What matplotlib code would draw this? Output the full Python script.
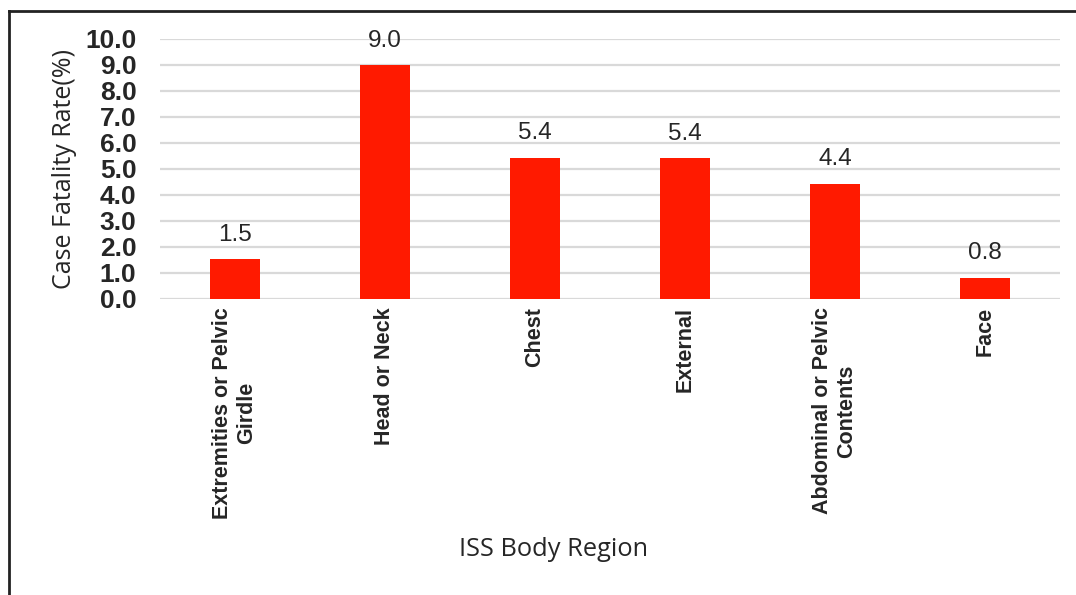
import matplotlib.pyplot as plt
import matplotlib.lines as mlines
from matplotlib import font_manager
import numpy as np

regions = [
    "Extremities or Pelvic\nGirdle",
    "Head or Neck",
    "Chest",
    "External",
    "Abdominal or Pelvic\nContents",
    "Face",
]
fatality_rate = [1.54, 9.0, 5.44, 5.42, 4.44, 0.82]
y_ticks = [0.0, 1.0, 2.0, 3.0, 4.0, 5.0, 6.0, 7.0, 8.0, 9.0, 10.0]

BAR_COLOR = "#FF1A00"
TEXT_COLOR = "#262626"


def liberation(bold=False, size=12):
    # pick the regular-width Liberation Sans file (avoid the Narrow variant)
    for f in font_manager.fontManager.ttflist:
        name = f.fname.split("/")[-1]
        if f.name == "Liberation Sans" and "Narrow" not in name and f.style == "normal":
            if (f.weight in (700, "bold")) == bold:
                return font_manager.FontProperties(fname=f.fname, size=size)
    return font_manager.FontProperties(family="Liberation Sans",
                                       weight="bold" if bold else "normal", size=size)


def main():
    fig = plt.figure(figsize=(10.76, 5.95), dpi=100)
    ax = fig.add_axes([0.1487, 0.4975, 0.8363, 0.437])

    x = np.arange(len(regions))
    ax.bar(x, fatality_rate, width=0.33, color=BAR_COLOR, zorder=3)

    for xi, v in zip(x, fatality_rate):
        ax.annotate(
            f"{v:.1f}",
            (xi, v),
            xytext=(0, 9.5),
            textcoords="offset points",
            ha="center",
            va="bottom",
            fontproperties=liberation(False, 17.5),
            color=TEXT_COLOR,
        )

    ax.set_xlim(-0.5, len(regions) - 0.5)
    ax.set_ylim(0, 10)
    ax.set_yticks(y_ticks)
    ax.set_yticklabels([f"{t:.1f}" for t in y_ticks],
                       fontproperties=liberation(True, 19), color=TEXT_COLOR)
    ax.set_xticks(x)
    ax.set_xticklabels(regions, rotation=90, fontproperties=liberation(True, 15.5),
                       color=TEXT_COLOR, ha="center", va="top",
                       multialignment="center")
    ax.tick_params(axis="both", length=0)
    ax.tick_params(axis="y", pad=17)
    ax.tick_params(axis="x", pad=6)

    ax.grid(axis="y", color="#D9D9D9", linewidth=1.6, zorder=0)
    for s in ax.spines.values():
        s.set_visible(False)

    ax.set_ylabel("Case Fatality Rate(%)", fontsize=18, family="Open Sans",
                  color=TEXT_COLOR, labelpad=6)
    fig.text(0.514, 0.077, "ISS Body Region", ha="center", va="center",
             fontsize=18.3, family="Open Sans", color=TEXT_COLOR)

    # outer frame (left and top edges only)
    x0 = 8.5 / 1076
    y0 = 1 - 10.5 / 595
    fig.add_artist(mlines.Line2D([x0, x0], [0, y0], color="#222222", linewidth=2,
                                 transform=fig.transFigure))
    fig.add_artist(mlines.Line2D([x0, 1], [y0, y0], color="#222222", linewidth=2,
                                 transform=fig.transFigure))

    fig.savefig("out.png", dpi=100)
    plt.close(fig)


if __name__ == "__main__":
    main()
